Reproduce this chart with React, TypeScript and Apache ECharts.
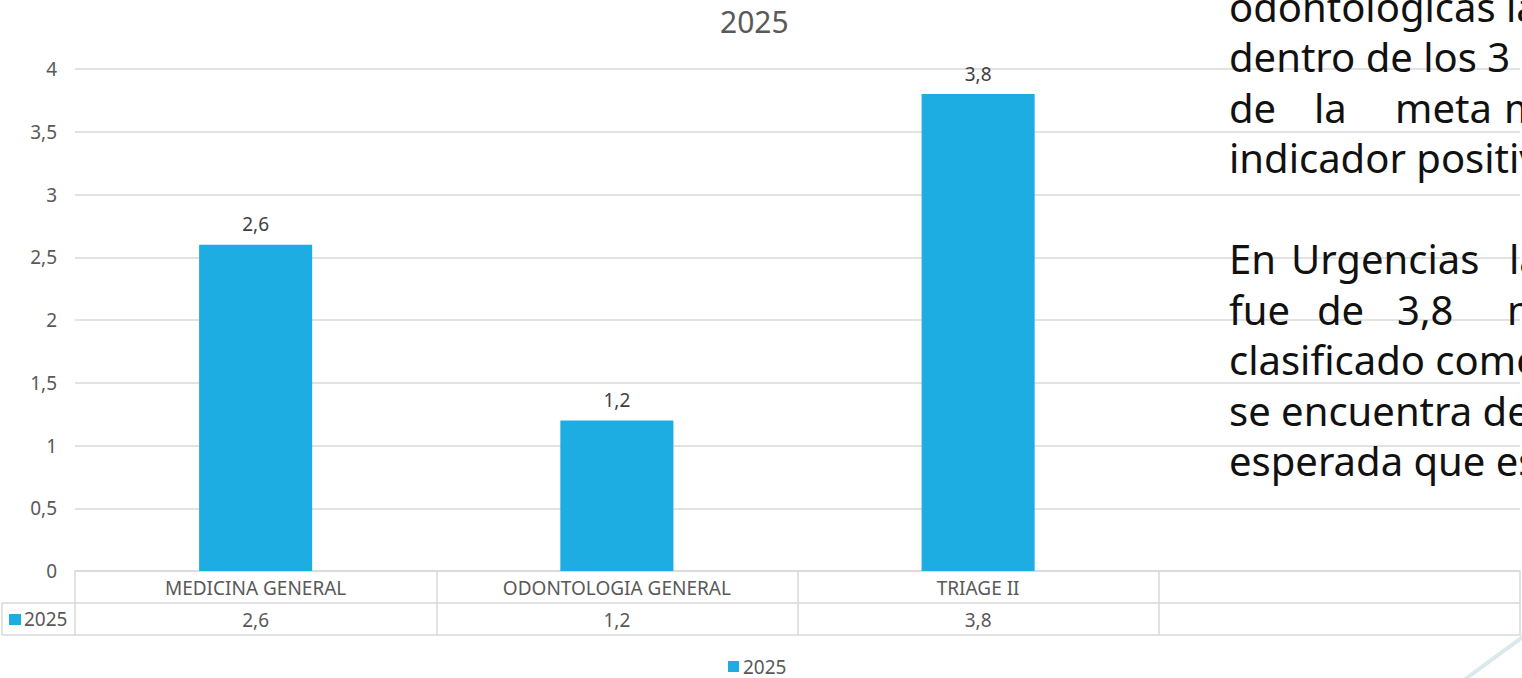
import React, { useEffect, useRef } from "react";
import * as echarts from "echarts";

const categories = ["MEDICINA GENERAL", "ODONTOLOGIA GENERAL", "TRIAGE II", ""];
const values2025: (number | null)[] = [2.6, 1.2, 3.8, null];
const seriesName = "2025";
const chartTitle = "2025";
const yMin = 0;
const yMax = 4;
const yStep = 0.5;

// slide text partially visible on the right of the chart
const slideLines: { words: [string, number][]; row: number }[] = [
  { row: 0, words: [["odontológicas la", 0]] },
  { row: 1, words: [["dentro de los 3", 0]] },
  { row: 2, words: [["de", 0], ["la", 85], ["meta", 166], ["m", 275]] },
  { row: 3, words: [["indicador positivo", 0]] },
  { row: 5, words: [["En", 0], ["Urgencias", 62], ["la", 280]] },
  { row: 6, words: [["fue", 0], ["de", 88], ["3,8", 168], ["m", 278]] },
  { row: 7, words: [["clasificado como", 0]] },
  { row: 8, words: [["se encuentra dentro", 0]] },
  { row: 9, words: [["esperada que es", 0]] },
];

const fmt = (v: number) => String(v).replace(".", ",");

const FONT = "'Noto Sans', 'DejaVu Sans', sans-serif";
const BAR = "#1eade3";
const LABEL = "#595959";
const LINE = "#d9d9d9";

export default function App() {
  const ref = useRef<HTMLDivElement>(null);
  useEffect(() => {
    document.body.style.margin = "0";
    document.body.style.overflow = "hidden";
    const el = ref.current!;
    const chart = echarts.init(el, null, { renderer: "svg" });

    const H = 678;
    const gridLeft = 75;
    const gridRight = 2;
    const gridTop = 69;
    const gridBottom = 107;
    const rowH = 32;
    const axisY = H - gridBottom;

    const textX = 1229;
    const textFont = 40;
    const lineH = 50.5;
    const textTop = 6;

    const graphics: any[] = [];
    // left key cell of the data table
    graphics.push(
      { type: "line", shape: { x1: 2, y1: axisY + rowH, x2: gridLeft, y2: axisY + rowH }, style: { stroke: LINE, lineWidth: 1.5 } },
      { type: "line", shape: { x1: 2, y1: axisY + 2 * rowH, x2: gridLeft, y2: axisY + 2 * rowH }, style: { stroke: LINE, lineWidth: 1.5 } },
      { type: "line", shape: { x1: 2, y1: axisY + rowH, x2: 2, y2: axisY + 2 * rowH }, style: { stroke: LINE, lineWidth: 1.5 } },
      { type: "rect", shape: { x: 9, y: axisY + rowH + 11, width: 12, height: 11 }, style: { fill: BAR } },
      {
        type: "text",
        x: 24,
        y: axisY + rowH + rowH / 2,
        style: { text: seriesName, fontSize: 19, fontFamily: FONT, fill: LABEL, verticalAlign: "middle", align: "left" },
      }
    );
    // decorative swoosh
    graphics.push({
      type: "line",
      shape: { x1: 1464, y1: 680, x2: 1524, y2: 636 },
      style: { stroke: "rgba(185,215,220,0.55)", lineWidth: 4 },
    });
    for (const ln of slideLines) {
      for (const [w, dx] of ln.words) {
        graphics.push({
          type: "text",
          x: textX + dx,
          y: textTop + ln.row * lineH,
          z: 100,
          style: { text: w, fontSize: textFont, fontFamily: FONT, fill: "#111111", verticalAlign: "middle", align: "left" },
        });
      }
    }

    chart.setOption({
      animation: false,
      backgroundColor: "#ffffff",
      textStyle: { fontFamily: FONT },
      title: {
        text: chartTitle,
        left: 720,
        top: 6,
        padding: 0,
        textStyle: { fontSize: 30, fontWeight: "normal", color: LABEL, fontFamily: FONT },
      },
      legend: {
        data: [seriesName],
        left: 728,
        top: 657,
        padding: 0,
        icon: "rect",
        itemWidth: 11,
        itemHeight: 11,
        itemGap: 4,
        textStyle: { fontSize: 19, color: LABEL, fontFamily: FONT, padding: [0, 0, 0, -1] },
      },
      grid: { left: gridLeft, right: gridRight, top: gridTop, bottom: gridBottom, containLabel: false },
      xAxis: [
        {
          type: "category",
          data: categories,
          position: "bottom",
          axisLine: { show: true, lineStyle: { color: LINE, width: 1.5 } },
          axisTick: { show: true, length: 2 * rowH, interval: 0, alignWithLabel: false, lineStyle: { color: LINE, width: 1.5 } },
          axisLabel: { interval: 0, margin: 7, fontSize: 19, color: LABEL, fontFamily: FONT },
          splitLine: { show: false },
        },
        {
          type: "category",
          data: values2025.map((v) => (v == null ? "" : fmt(v))),
          position: "bottom",
          offset: rowH,
          axisLine: { show: true, lineStyle: { color: LINE, width: 1.5 } },
          axisTick: { show: false },
          axisLabel: { interval: 0, margin: 7, fontSize: 19, color: LABEL, fontFamily: FONT },
        },
        {
          type: "category",
          data: categories,
          position: "bottom",
          offset: 2 * rowH,
          axisLine: { show: true, lineStyle: { color: LINE, width: 1.5 } },
          axisTick: { show: false },
          axisLabel: { show: false },
        },
      ],
      yAxis: {
        type: "value",
        min: yMin,
        max: yMax,
        interval: yStep,
        axisLine: { show: false },
        axisTick: { show: false },
        axisLabel: { formatter: (v: number) => fmt(v), fontSize: 19, color: LABEL, margin: 18, fontFamily: FONT },
        splitLine: { lineStyle: { color: LINE, width: 1.5 } },
      },
      series: [
        {
          name: seriesName,
          type: "bar",
          xAxisIndex: 0,
          data: values2025.map((v) => (v == null ? "-" : v)),
          barWidth: "31.3%",
          itemStyle: { color: BAR },
          label: {
            show: true,
            position: "top",
            distance: 11,
            fontSize: 19,
            color: "#404040",
            fontFamily: FONT,
            formatter: (p: any) => fmt(p.value),
          },
        },
      ],
      graphic: graphics,
    });
    return () => chart.dispose();
  }, []);
  return <div ref={ref} style={{ width: 1522, height: 678 }} />;
}
